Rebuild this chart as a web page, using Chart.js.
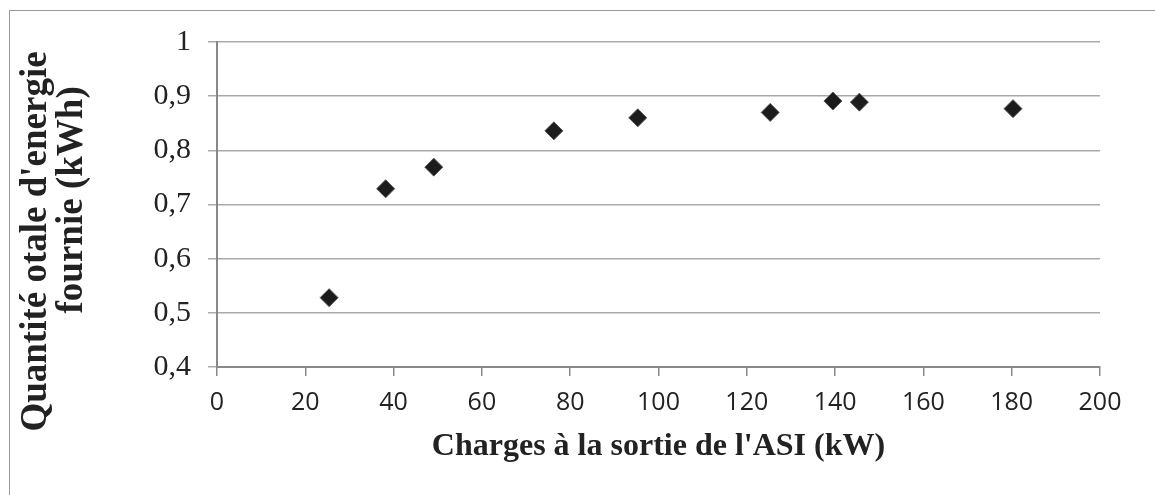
<!DOCTYPE html>
<html>
<head>
<meta charset="utf-8">
<script src="https://cdn.jsdelivr.net/npm/chart.js@4/dist/chart.umd.min.js"></script>
<style>
  html, body { margin: 0; padding: 0; background: #fff; overflow: hidden; }
  #frame { position: absolute; left: 9px; top: 10px; width: 1300px; height: 700px; border: 1.5px solid #999; }
  #wrap { position: absolute; left: 0; top: 0; width: 1155px; height: 495px; }
</style>
</head>
<body>
<div id="frame"></div>
<div id="wrap"><canvas id="asi" width="1155" height="495"></canvas></div>
<script>
// charge en sortie de l'ASI (kW) et énergie fournie (kWh)
const loadKW = [25.4, 38.2, 49.1, 76.3, 95.3, 125.3, 139.5, 145.5, 180.3];
const energyKWh = [0.528, 0.729, 0.769, 0.836, 0.860, 0.870, 0.891, 0.889, 0.877];

const xTicks = [0, 20, 40, 60, 80, 100, 120, 140, 160, 180, 200];
const yTicks = [0.4, 0.5, 0.6, 0.7, 0.8, 0.9, 1];

const points = loadKW.map((x, i) => ({ x: x, y: energyKWh[i] }));

// virgule décimale comme dans Excel (fr)
function frNum(v) {
    let r = Math.round(v * 10) / 10;
    return r === 1 ? '1' : r.toFixed(1).replace('.', ',');
}

const ctx = document.getElementById('asi');

new Chart(ctx, {
    type: 'scatter',
    data: {
        datasets: [{
            data: points,
            pointStyle: 'rectRot',
            pointRadius: 9,
            pointHoverRadius: 9,
            backgroundColor: '#1c1c1c',
            borderColor: '#555',
            borderWidth: 1
        }]
    },
    options: {
        responsive: false,
        animation: false,
        devicePixelRatio: 1,
        layout: {
            padding: { top: 42, right: 55, bottom: 0, left: 0 }
        },
        plugins: {
            legend: { display: false },
            tooltip: { enabled: false }
        },
        scales: {
            x: {
                type: 'linear',
                min: 0,
                max: 200,
                afterBuildTicks: s => { s.ticks = xTicks.map(v => ({ value: v })); },
                afterFit: s => { s.height = 128; },
                grid: {
                    drawOnChartArea: false,
                    drawTicks: true,
                    tickLength: 9,
                    color: '#888',
                    lineWidth: 1.5
                },
                border: { color: '#888', width: 2 },
                ticks: {
                    padding: 12,
                    maxRotation: 0,
                    autoSkip: false,
                    color: '#222',
                    font: { family: 'Open Sans', size: 25 }
                },
                title: {
                    display: true,
                    text: "Charges à la sortie de l'ASI (kW)",
                    color: '#222',
                    padding: { top: 0, bottom: 29 },
                    font: { family: 'Liberation Serif', size: 32, weight: 'bold', lineHeight: 1.2 }
                }
            },
            y: {
                type: 'linear',
                min: 0.4,
                max: 1,
                afterBuildTicks: s => { s.ticks = yTicks.map(v => ({ value: v })); },
                afterFit: s => { s.width = 217; },
                grid: {
                    color: '#aaa',
                    lineWidth: 1.5,
                    drawTicks: true,
                    tickLength: 9
                },
                border: { color: '#888', width: 2 },
                ticks: {
                    padding: 17,
                    color: '#222',
                    font: { family: 'Liberation Serif', size: 30 },
                    callback: v => frNum(v)
                },
                title: {
                    display: true,
                    text: ["Quantité otale d'energie        ", " fournie (kWh)"],
                    color: '#222',
                    padding: { top: 18, bottom: 0 },
                    font: { family: 'Liberation Serif', size: 37, weight: 'bold', lineHeight: 0.973 }
                }
            }
        }
    }
});
</script>
</body>
</html>
